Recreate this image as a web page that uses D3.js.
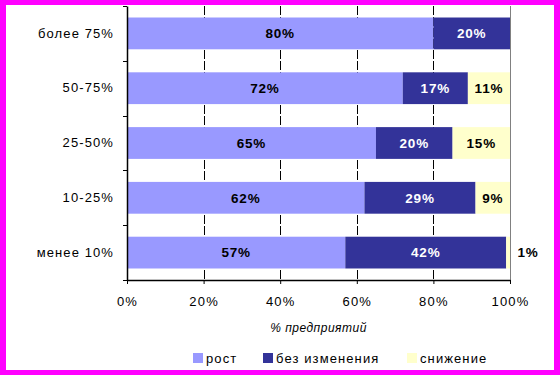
<!DOCTYPE html>
<html>
<head>
<meta charset="utf-8">
<script src="https://cdn.jsdelivr.net/npm/d3@7"></script>
<style>
  html, body { margin: 0; padding: 0; background: #fff; }
  svg { display: block; font-family: Arial, "Liberation Sans", sans-serif; }
</style>
</head>
<body>
<svg></svg>
<script>
let categories = ["более 75%", "50-75%", "25-50%", "10-25%", "менее 10%"];
let seriesNames = ["рост", "без изменения", "снижение"];
let rost = [80, 72, 65, 62, 57];
let bezIzm = [20, 17, 20, 29, 42];
let snizh = [0, 11, 15, 9, 1];
let xTicks = [0, 20, 40, 60, 80, 100];
let colors = ["#9999ff", "#333399", "#ffffcc"];
let labelColors = ["#000", "#fff", "#000"];

let width = 560;
let height = 375;
let plotLeft = 127, plotRight = 510, plotTop = 6, plotBottom = 280;
let svg = d3.select('svg');

let xScale;
let yScale;

const drawCanvas = () => {
    svg.attr('width', width)
       .attr('height', height);

    // magenta frame
    svg.append('rect')
       .attr('x', 0).attr('y', 0)
       .attr('width', width).attr('height', height)
       .attr('fill', '#ff00ff');
    svg.append('rect')
       .attr('x', 6).attr('y', 5)
       .attr('width', 548).attr('height', 365)
       .attr('fill', '#fff');
};

const generateScales = () => {
    xScale = d3.scaleLinear()
               .domain([0, 100])
               .range([plotLeft, plotRight]);

    yScale = d3.scaleBand()
               .domain(categories)
               .range([plotTop, plotBottom])
               .paddingInner(0.42)
               .paddingOuter(0.21);
};

const drawGrid = () => {
    svg.append('g')
       .selectAll('line')
       .data(xTicks.filter((d) => d > 0 && d < 100))
       .enter()
       .append('line')
       .attr('x1', (d) => Math.round(xScale(d)) + 0.5)
       .attr('x2', (d) => Math.round(xScale(d)) + 0.5)
       .attr('y1', plotTop)
       .attr('y2', plotBottom)
       .attr('stroke', '#000')
       .attr('stroke-dasharray', '9,2');

    svg.append('line')
       .attr('x1', plotRight + 0.5).attr('x2', plotRight + 0.5)
       .attr('y1', plotTop).attr('y2', plotBottom)
       .attr('stroke', '#808080');
};

const drawBars = () => {
    let rows = categories.map((c, i) => {
        let vals = [rost[i], bezIzm[i], snizh[i]];
        let x0 = 0;
        return vals.map((v, k) => {
            let seg = { cat: c, k: k, v: v, x0: x0, x1: x0 + v };
            x0 += v;
            return seg;
        });
    });
    let segs = rows.flat().filter((d) => d.v > 0);

    svg.append('g')
       .selectAll('rect')
       .data(segs)
       .enter()
       .append('rect')
       .attr('x', (d) => xScale(d.x0))
       .attr('y', (d) => yScale(d.cat))
       .attr('width', (d) => xScale(d.x1) - xScale(d.x0))
       .attr('height', yScale.bandwidth())
       .attr('fill', (d) => colors[d.k]);

    // small slices get their label outside the bar
    svg.append('g')
       .selectAll('text')
       .data(segs)
       .enter()
       .append('text')
       .attr('x', (d) => d.v < 3 ? xScale(100) + 18 : xScale((d.x0 + d.x1) / 2))
       .attr('y', (d) => yScale(d.cat) + yScale.bandwidth() / 2)
       .attr('dy', '0.36em')
       .attr('text-anchor', 'middle')
       .attr('font-size', '13.5px')
       .attr('font-weight', 'bold')
       .attr('letter-spacing', '0.8px')
       .attr('fill', (d) => d.v < 3 ? '#000' : labelColors[d.k])
       .text((d) => d.v + '%');
};

const drawAxes = () => {
    let xAxis = d3.axisBottom(xScale)
                  .tickValues(xTicks)
                  .tickFormat((d) => d + '%')
                  .tickSizeInner(4)
                  .tickSizeOuter(0)
                  .tickPadding(13);

    let gx = svg.append('g')
       .attr('id', 'x-axis')
       .attr('transform', 'translate(0,' + plotBottom + ')')
       .call(xAxis);
    gx.select('.domain').attr('stroke', '#000').attr('stroke-width', 1.5);
    gx.selectAll('text')
      .attr('font-size', '13px')
      .attr('letter-spacing', '1.2px')
      .attr('font-family', 'Arial, "Liberation Sans", sans-serif')
      .attr('fill', '#000');

    let yAxis = d3.axisLeft(yScale)
                  .tickSize(0)
                  .tickPadding(13);

    let gy = svg.append('g')
       .attr('id', 'y-axis')
       .attr('transform', 'translate(' + plotLeft + ',0)')
       .call(yAxis);
    gy.select('.domain').attr('stroke', '#000').attr('stroke-width', 1.5);
    gy.selectAll('text')
      .attr('font-size', '13px')
      .attr('letter-spacing', '1.1px')
      .attr('font-family', 'Arial, "Liberation Sans", sans-serif')
      .attr('fill', '#000');

    // tick marks between categories
    let bounds = d3.range(categories.length + 1).map((i) => plotTop + i * (plotBottom - plotTop) / categories.length);
    gy.selectAll('.sep')
      .data(bounds)
      .enter()
      .append('line')
      .attr('x1', -4).attr('x2', 0)
      .attr('y1', (d) => Math.round(d) + 0.5)
      .attr('y2', (d) => Math.round(d) + 0.5)
      .attr('stroke', '#000');

    svg.append('text')
       .attr('x', (plotLeft + plotRight) / 2)
       .attr('y', 332)
       .attr('text-anchor', 'middle')
       .attr('font-size', '12px')
       .attr('font-style', 'italic')
       .attr('letter-spacing', '0.5px')
       .text('% предприятий');
};

const drawLegend = () => {
    let legendX = [193, 263, 407];
    let g = svg.append('g');
    let items = g.selectAll('g')
                 .data(seriesNames)
                 .enter()
                 .append('g')
                 .attr('transform', (d, i) => 'translate(' + legendX[i] + ',353)');
    items.append('rect')
         .attr('width', 10).attr('height', 10)
         .attr('fill', (d, i) => colors[i]);
    items.append('text')
         .attr('x', 13)
         .attr('y', 5)
         .attr('dy', '0.36em')
         .attr('font-size', '13px')
         .attr('letter-spacing', '1.1px')
         .text((d) => d);
};

drawCanvas();
generateScales();
drawGrid();
drawBars();
drawAxes();
drawLegend();
</script>
</body>
</html>
